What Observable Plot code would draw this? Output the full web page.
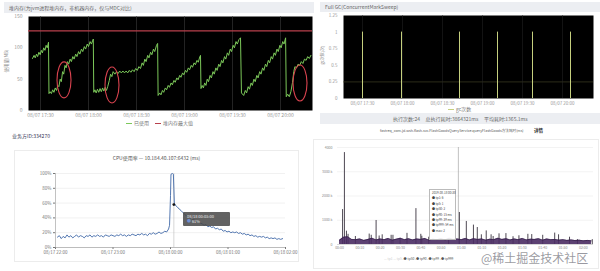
<!DOCTYPE html>
<html><head><meta charset="utf-8">
<script src="https://cdn.jsdelivr.net/npm/d3@7"></script>
<script src="https://cdn.jsdelivr.net/npm/@observablehq/plot@0.6"></script>
<style>
body{margin:0;width:600px;height:271px;overflow:hidden;background:#fff;position:relative;font-family:"Noto Sans CJK SC","Noto Sans",sans-serif;}
.abs{position:absolute;}
.bar{background:#eceef2;color:#666;font-size:5px;line-height:11px;padding-left:5px;box-sizing:border-box;white-space:nowrap;}
.leg{font-size:5px;color:#777;white-space:nowrap;}
.leg i{display:inline-block;width:6px;height:1px;vertical-align:middle;margin:0 2px 0 6px;}
.card{border:1px solid #ececec;box-sizing:border-box;}
</style></head>
<body>
<div class="abs bar" style="left:4px;top:2px;width:310px;height:11px;">堆内存(为jvm进程堆内存，非机器内存，仅与MDC对比)</div>
<div class="abs" id="tl" style="left:0;top:12px;"></div>
<div class="abs leg" style="left:120px;top:119px;"><i style="background:#7cc85a"></i>已使用<i style="background:#b8404c"></i>堆内存最大值</div>

<div class="abs bar" style="left:320px;top:2px;width:280px;height:10px;line-height:10px;">Full GC(ConcurrentMarkSweep)</div>
<div class="abs" id="tr" style="left:318px;top:12px;"></div>
<div class="abs leg" style="left:442px;top:105px;"><i style="background:#c5cf7e"></i>gc次数</div>
<div class="abs bar" style="left:320px;top:113px;width:280px;height:11px;padding-left:73px;word-spacing:0;">执行次数:24&nbsp;&nbsp;&nbsp;&nbsp;&nbsp;总执行耗时:3864321ms&nbsp;&nbsp;&nbsp;&nbsp;&nbsp;平均耗时:1365.1ms</div>
<div class="abs" style="left:380px;top:128px;font-size:3.6px;color:#555;white-space:nowrap;">fastreq_com.jd.wsh.flash.svc.FlashGoodsQueryService.queryFlashGoods方法耗时(ms)</div>
<div class="abs" style="left:534px;top:127px;font-size:4.5px;color:#222;font-weight:bold;">详情</div>

<div class="abs" style="left:12px;top:132px;font-size:5px;color:#335;">业务方ID:334270</div>
<div class="abs card" style="left:14px;top:150px;width:285px;height:112px;"></div>
<div class="abs" style="left:14px;top:154px;width:285px;text-align:center;font-size:5px;color:#555;">CPU使用率 — 10.184.40.107:6432 (ms)</div>
<div class="abs" id="bl" style="left:14px;top:160px;"></div>
<div class="abs" style="left:183px;top:212px;width:47px;height:14px;background:rgba(70,70,70,0.85);border-radius:1px;color:#eee;font-size:4px;line-height:5px;padding:2px 0 0 4px;box-sizing:border-box;">08/18 00:03:00<br><span style="color:#6f8fd0">●</span> 61%</div>

<div class="abs card" style="left:313px;top:139px;width:286px;height:130px;"></div>
<div class="abs" id="br" style="left:300px;top:140px;"></div>
<div class="abs" style="left:429px;top:189px;width:27px;height:51px;background:rgba(255,255,255,0.9);border:1px solid #bbb;font-size:3px;line-height:5.4px;color:#444;padding:1px 0 0 2px;box-sizing:border-box;white-space:nowrap;">2019-08-18 00:38<br>● tp1: 6<br>● tp5: 1<br>● tp50: 2<br>● tp90: 15 ms<br>● tp99: 39 ms<br>● tp999: 54 ms<br>● max: 2</div>
<div class="abs leg" style="left:384px;top:256px;font-size:3.2px;color:#555;"><span style="color:#ccc">— tp1 — tp5</span> -● tp50 -● tp90 -● tp99 -● tp999</div>
<div class="abs" style="left:481px;top:251px;font-size:12px;line-height:14px;color:rgba(120,120,130,0.75);white-space:nowrap;font-family:'Noto Sans CJK SC',serif;text-shadow:0 0 2px #fff;">@稀土掘金技术社区</div>

<script>
const FONT = '"Noto Sans CJK SC","Noto Sans",sans-serif';
// ---------- top-left: heap memory ----------
const heapTicks = [30, 60, 90, 120, 150, 180];
const heapTickLabels = ["08/07 17:30","08/07 18:00","08/07 18:30","08/07 19:00","08/07 19:30","08/07 20:00"];
const heapYTicks = [0, 50, 100, 150];
const heapUsed = [
 [25,83],[26,88],[26.7,84],[27.5,90],[28.2,86],[29,93],[29.8,89],[30.5,96],[31.2,92],[32,100],[32.8,96],[33.5,104],[34.2,100],[35,109],
 [35.3,27],[36,30],[36.8,27],[37.6,33],[38.4,29],[39.2,36],[40,32],[40.8,40],[41.5,38],[42.3,50],[43,46],[43.8,62],[44.5,58],[45.3,72],[46,68],
 [46.8,78],[47.6,74],[48.5,82],[49.3,78],[50.2,86],[51,82],[52,90],[52.8,86],[53.8,94],[54.6,90],[55.6,98],[56.4,94],[57.4,102],[58.2,98],
 [59.2,106],[60,102],[61,110],[61.8,106],[63,114],
 [63.3,29],[64,33],[64.8,28],[65.6,34],[66.4,29],[67.2,35],[68,30],[68.8,36],[69.6,31],[70.4,37],[71.2,32],[72,38],
 [73,48],[73.8,58],[74.6,54],[75.4,62],[76.5,58],[77.5,62],[78.5,59],[79.5,63],[80.5,60],[81.5,63],[82.5,60],[83.5,63],[84.5,60],[85.5,64],
 [86.5,61],[87.5,65],[88.5,62],[89.5,67],[90.5,64],[91.5,70],[92.5,67],
 [93.5,76],[94.3,72],[95.2,82],[96,78],[97,88],[97.8,84],[98.8,93],[99.6,89],[100.6,98],[101.4,94],[102.5,104],[103.2,107],
 [103.5,24],[104.5,28],[105.3,25],[106.2,32],[107,29],[108,36],[108.8,33],[109.8,40],[110.6,37],[111.6,44],[112.4,41],[113.4,48],[114.2,45],
 [115.2,52],[116,49],[117,56],[117.8,53],[118.8,60],[119.6,57],[120.6,64],[121.4,61],[122.4,68],[123.2,65],[124.2,72],[125,69],[126,76],
 [126.8,73],[127.8,80],[128.6,77],[129.6,86],[130,88],
 [130.3,35],[131,40],[131.8,36],[132.6,44],[133.4,40],[134.2,50],[135,46],[136,56],[136.8,52],[137.8,62],[138.6,58],[139.6,68],[140.4,64],
 [141.4,74],[142.2,70],[143.2,80],[144,76],[145,86],[145.8,82],[146.8,92],[147.6,88],[148.6,98],[149.4,94],[150.4,104],[151.2,100],
 [152.2,110],[153,106],[154,113],[155,116],
 [155.6,28],[157,24],[158,32],[158.8,28],[159.8,38],[160.6,34],[161.6,44],[162.4,40],[163.4,50],[164.2,46],[165.2,56],[166,52],[167,62],
 [167.8,58],[168.8,68],[169.6,64],[170.6,74],[171.4,70],[172.4,80],[173.2,76],[174.2,86],[175,82],[176,92],[176.8,88],[177.8,98],[178.6,94],
 [179.6,104],[180.4,100],[181.4,110],[182.2,106],[183.2,116],
 [183.6,22],[184.5,26],[185.5,22],[186.5,30],[187.5,45],[188.3,62],[189,70],[190,68],[191,74],[192,72],[193,78],[194,75],[195,82],
 [196,80],[197,86],[198,83],[199,88]
];
const heapMax = [127];
const heapCircled = [[45,48],[75,40],[192.5,43]];

const ellipses = (index, scales) => {
  const g = d3.create("svg:g");
  for (const [m, v] of heapCircled) {
    g.append("ellipse").attr("cx", scales.x(m)).attr("cy", scales.y(v))
     .attr("rx", 7).attr("ry", 18).attr("fill", "none").attr("stroke", "#d9434f").attr("stroke-width", 1.1);
  }
  return g.node();
};

const tl = Plot.plot({
  width: 318, height: 108, marginLeft: 28, marginRight: 6, marginTop: 4, marginBottom: 10,
  style: {fontSize: "5px", color: "#999", background: "transparent", fontFamily: FONT},
  x: {domain: [22.5, 200], ticks: heapTicks, tickFormat: d => heapTickLabels[heapTicks.indexOf(d)], tickSize: 0, tickPadding: 3, label: null},
  y: {domain: [0, 150], ticks: heapYTicks, tickSize: 0, tickPadding: 6, label: null},
  marks: [
    Plot.frame({fill: "#000"}),
    Plot.ruleX(heapTicks, {stroke: "#3a3a3a", strokeWidth: 0.6}),
    Plot.ruleY(heapMax, {stroke: "#b8404c", strokeWidth: 1.2}),
    Plot.line(heapUsed, {x: d => d[0], y: d => d[1], stroke: "#7cc85a", strokeWidth: 1}),
    ellipses
  ]
});
document.getElementById("tl").append(tl);
const tlLab = document.createElement("div");
tlLab.className = "abs"; tlLab.style.cssText = "left:-6px;top:58px;font-size:4.5px;color:#888;transform:rotate(-90deg);white-space:nowrap;";
tlLab.textContent = "使用量(MB)";
document.body.append(tlLab);

// ---------- top-right: full GC ----------
const gcTicks = [30, 60, 90, 120, 150, 180];
const gcTickLabels = ["08/07 17:30","08/07 18:00","08/07 18:30","08/07 19:00","08/07 19:30","08/07 20:00"];
const gcYTicks = [0, 0.25, 0.5, 0.75, 1, 1.25];
const gcTimes = [30, 59.25, 102.75, 131.25, 157.5, 186];
const gcCounts = [1, 1, 1, 1, 1, 1];
const gcData = gcTimes.map((t, i) => ({t, c: gcCounts[i]}));

const tr = Plot.plot({
  width: 282, height: 96, marginLeft: 25, marginRight: 7, marginTop: 3, marginBottom: 10,
  style: {fontSize: "4.5px", color: "#999", background: "transparent", fontFamily: FONT},
  x: {domain: [15.75, 203.25], ticks: gcTicks, tickFormat: d => gcTickLabels[gcTicks.indexOf(d)], tickSize: 0, tickPadding: 3, label: null},
  y: {domain: [0, 1.25], ticks: gcYTicks, tickFormat: d => String(d), tickSize: 0, tickPadding: 6, label: null},
  marks: [
    Plot.frame({fill: "#000"}),
    Plot.ruleY([0.25], {stroke: "#4a4a2a", strokeWidth: 0.6}),
    Plot.ruleX(gcTicks, {stroke: "#262626", strokeWidth: 0.5}),
    Plot.ruleX(gcData, {x: "t", y1: 0, y2: "c", stroke: "#c5cf7e", strokeWidth: 1})
  ]
});
document.getElementById("tr").append(tr);
const trLab = document.createElement("div");
trLab.className = "abs"; trLab.style.cssText = "left:313px;top:52px;font-size:4px;color:#888;transform:rotate(-90deg);white-space:nowrap;";
trLab.textContent = "gc次数(次)";
document.body.append(trLab);

// ---------- bottom-left: CPU ----------
const cpuTicks = [0, 60, 120, 180, 240];
const cpuTickLabels = ["08/17 22:00","08/17 23:00","08/18 00:00","08/18 01:00","08/18 02:00"];
const cpuYTicks = [0, 20, 40, 60, 80, 100];
const cpu = [
 [2,14],[4,16],[6,12],[8,15],[10,13],[12,17],[14,14],[16,16],[18,13],[20,15],[22,17],[24,14],[26,16],[28,15],[30,13],[32,16],
 [34,15],[36,17],[38,14],[40,16],[42,15],[44,17],[46,15],[48,16],[50,14],[52,17],[54,16],[56,15],[58,17],[60,16],[62,15],[64,17],
 [66,16],[68,18],[70,16],[72,17],[74,15],[76,17],[78,16],[80,18],[82,17],[84,16],[86,18],[88,17],[90,19],[92,17],[94,18],[96,16],
 [98,19],[100,18],[102,20],[104,18],[106,19],[108,21],[110,19],[112,20],[114,22],[116,21],[118,25],[119,30],[120,70],[120.5,99],
 [122,100],[123,99],[123.5,80],[124,60],[125,57],[127,55],[129,52],[131,50],[133,47],[135,45],[137,42],[139,41],[141,40],[143,38],
 [145,37],[147,35],[149,36],[151,33],[153,32],[155,30],[157,31],[159,28],[161,29],[163,27],[165,28],[167,25],[169,26],[171,24],
 [173,25],[175,22],[177,23],[179,21],[181,22],[183,20],[185,21],[187,20],[189,21],[191,19],[193,20],[195,18],[197,19],[199,17],
 [201,18],[203,16],[205,17],[207,15],[209,16],[211,14],[213,15],[215,14],[217,15],[219,13],[221,14],[223,12],[225,13],[227,12],
 [229,13],[231,11],[233,12],[235,11],[237,12]
];
const cpuCursor = [[123.5, 58]];

const bl = Plot.plot({
  width: 284, height: 97, marginLeft: 41, marginRight: 13, marginTop: 13, marginBottom: 10,
  style: {fontSize: "4.5px", color: "#777", background: "transparent", fontFamily: FONT},
  x: {domain: [0, 240], ticks: cpuTicks, tickFormat: d => cpuTickLabels[cpuTicks.indexOf(d)], tickSize: 2, tickPadding: 1.5, label: null},
  y: {domain: [0, 100], ticks: cpuYTicks, tickFormat: d => d + "%", tickSize: 2, tickPadding: 2, label: null, grid: true},
  marks: [
    Plot.ruleY([0], {stroke: "#999", strokeWidth: 0.6}),
    Plot.ruleX([0], {stroke: "#999", strokeWidth: 0.6}),
    Plot.ruleX(cpuCursor, {x: d => d[0], stroke: "#bbb", strokeWidth: 0.6}),
    Plot.line(cpu, {x: d => d[0], y: d => d[1], stroke: "#4169a8", strokeWidth: 0.9}),
    Plot.dot(cpuCursor, {x: d => d[0], y: d => d[1], r: 1.4, fill: "#111"})
  ]
});
document.getElementById("bl").append(bl);

// ---------- bottom-right: method latency ----------
const latTicks = [0, 10, 20, 30, 40, 50, 60, 70, 80, 90, 100, 110, 120];
const latTickLabels = ["00:00","00:10","00:20","00:30","00:40","00:50","01:00","01:10","01:20","01:30","01:40","01:50","02:00"];
const latYTicks = [0, 1000, 2000, 3000, 4000];
const latYLabels = ["0","1000 k","2000 k","3000 k","4000"];
const latSpikes = [
 [1.5,1440],[2.4,3790],[3.4,550],[4.2,420],[7.8,330],[14.6,430],[15.6,380],[18,990],[19.5,350],[21,400],[25.4,380],[26.3,380],
 [29.8,250],[33.2,460],[37.6,1480],[40,420],[40.5,340],[43.9,300],[53.7,250],[59,1320],[62.4,950],[65.9,800],[67.8,700],[69.8,400],
 [72.2,560],[74.6,400],[75.6,330],[78.5,440],[81.9,450],[85.4,320],[88.3,360],[92.7,420],[94.6,410],[100,380],[105.9,470],[107.8,400],
 [113.2,300],[117.1,200],[124.4,200]
];
const latBand = [
 [0,180],[2,300],[4,320],[6,210],[8,200],[10,230],[12,170],[14,210],[16,260],[18,190],[20,230],[22,200],[24,250],[26,180],[28,220],
 [30,260],[32,200],[34,240],[36,190],[38,230],[40,210],[42,250],[44,180],[46,220],[48,200],[50,240],[52,190],[54,260],[56,210],
 [58,230],[60,200],[62,250],[64,190],[66,240],[68,210],[70,230],[72,180],[74,220],[76,200],[78,260],[80,210],[82,240],[84,190],
 [86,230],[88,200],[90,250],[92,190],[94,220],[96,210],[98,240],[100,180],[102,230],[104,200],[106,210],[108,180],[110,200],
 [112,170],[114,190],[116,160],[118,180],[120,150],[122,170],[124,150]
];
const latCursor = [58.5];

const br = Plot.plot({
  width: 300, height: 115, marginLeft: 37, marginRight: 7, marginTop: 7, marginBottom: 11,
  style: {fontSize: "3.5px", color: "#888", background: "transparent", fontFamily: FONT},
  x: {domain: [-1, 125], ticks: latTicks, tickFormat: d => latTickLabels[latTicks.indexOf(d)], tickSize: 0, tickPadding: 2, label: null},
  y: {domain: [0, 4000], ticks: latYTicks, tickFormat: d => latYLabels[latYTicks.indexOf(d)], tickSize: 0, tickPadding: 5, label: null, grid: true},
  marks: [
    Plot.ruleY([0], {stroke: "#bbb", strokeWidth: 0.5}),
    Plot.ruleX(latCursor, {stroke: "#999", strokeWidth: 0.6}),
    Plot.ruleX(latSpikes, {x: d => d[0], y1: 0, y2: d => d[1], stroke: "#3a3340", strokeWidth: 0.9}),
    Plot.areaY(latBand, {x: d => d[0], y: d => d[1], fill: "#4a2c63", fillOpacity: 0.9}),
    Plot.line(latBand, {x: d => d[0], y: d => d[1], stroke: "#2e1a40", strokeWidth: 0.6})
  ]
});
document.getElementById("br").append(br);
</script>
</body></html>
